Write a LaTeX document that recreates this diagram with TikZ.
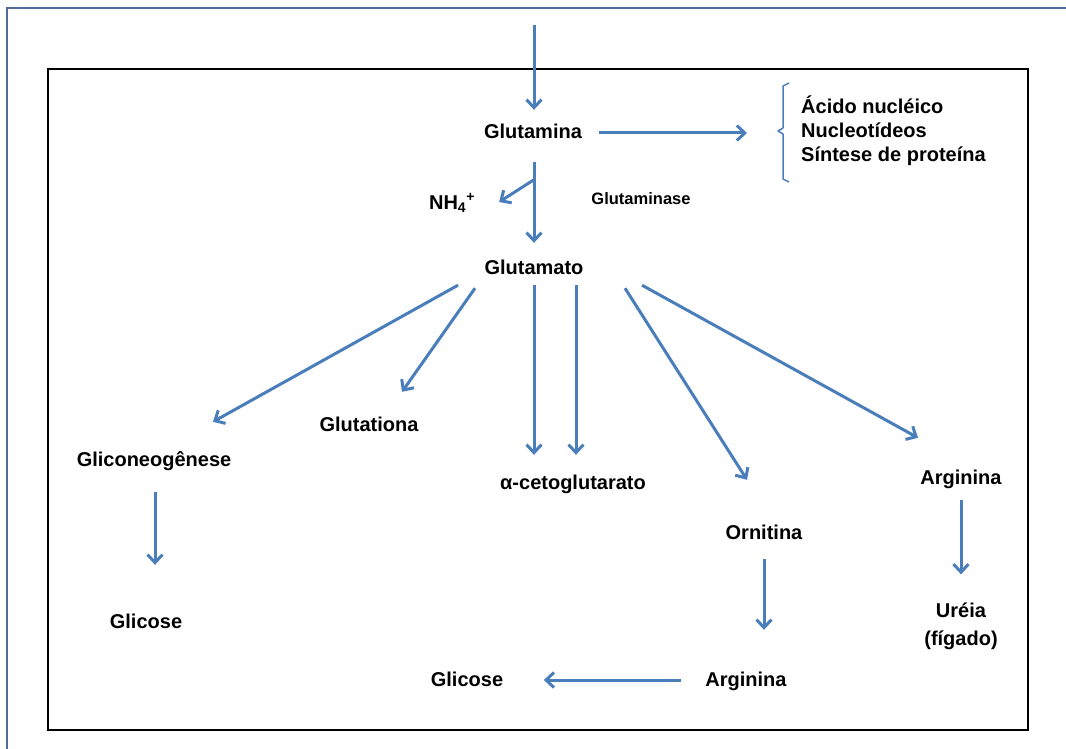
\documentclass[tikz,border=0pt]{standalone}
\usepackage{fontspec}
\setmainfont{Liberation Sans}
\usetikzlibrary{arrows.meta}
\definecolor{arrblue}{RGB}{74,126,187}
\definecolor{frameblue}{RGB}{79,107,150}
\tikzset{
  txt/.style={font=\fontsize{20}{24}\selectfont\bfseries, inner sep=0pt},
  lbl/.style={txt, text height=15pt, text depth=4pt},
  arr/.style={draw=arrblue, line width=3pt, -{Straight Barb[length=8pt,width=15pt]}},
}
\begin{document}
\begin{tikzpicture}[x=1pt,y=-1pt]
\useasboundingbox (0,0) rectangle (1066,749);
% frames
\draw[frameblue, line width=1.5pt] (7,749) -- (7,8) -- (1066,8);
\draw[black, line width=2.5pt] (48,69) rectangle (1028,730);

% nodes
\node[lbl] (glutamina) at (533,133) {Glutamina};
\node[txt, anchor=west, align=left] (lista) at (801,131) {Ácido nucléico\\Nucleotídeos\\Síntese de proteína};
\node[lbl] (nh4) at (452,204) {NH\textsubscript{4}\textsuperscript{+}};
\node[lbl, font=\fontsize{16.5}{20}\selectfont\bfseries] (glutaminase) at (641,199) {Glutaminase};
\node[lbl] (glutamato) at (534,269) {Glutamato};
\node[lbl] (glutationa) at (369,426) {Glutationa};
\node[lbl] (glicneo) at (154,461) {Gliconeogênese};
\node[lbl] (aceto) at (573,484) {α-cetoglutarato};
\node[lbl] (argR) at (961,479) {Arginina};
\node[lbl] (ornitina) at (764,534) {Ornitina};
\node[lbl] (argB) at (746,681) {Arginina};
\node[lbl] (glicB) at (467,681) {Glicose};
\node[lbl] (glicL) at (146,623) {Glicose};
\node[txt, align=center, font=\fontsize{20}{28}\selectfont\bfseries] (ureia) at (961,626) {Uréia\\(fígado)};

% brace
\draw[arrblue, line width=1.5pt, line join=round]
  ([shift={(-12,-48)}]lista.west) -- ([shift={(-18,-45)}]lista.west)
  -- ([shift={(-18,-3)}]lista.west) -- ([shift={(-23,0)}]lista.west)
  -- ([shift={(-18,3)}]lista.west) -- ([shift={(-18,48)}]lista.west)
  -- ([shift={(-12,51)}]lista.west);

% arrows
\coordinate (topin) at (534,25);
\draw[arr] (topin) -- ([shift={(1,-13.5)}]glutamina.north);
\draw[arr] ([shift={(17,0)}]glutamina.east) -- ([shift={(-54,2)}]lista.west);
\draw[arr] ([shift={(1,19)}]glutamina.south) -- ([shift={(0,-16.5)}]glutamato.north);
\draw[arr] ([shift={(1,37)}]glutamina.south) -- ([shift={(24,-2)}]nh4.east);
\draw[arr] ([shift={(-76,6.5)}]glutamato.south) -- ([shift={(59,-29.5)}]glicneo.north);
\draw[arr] ([shift={(-59,9.5)}]glutamato.south) -- ([shift={(33,-24.5)}]glutationa.north);
\draw[arr] ([shift={(0,6.5)}]glutamato.south) -- ([shift={(-39,-19.5)}]aceto.north);
\draw[arr] ([shift={(42,6.5)}]glutamato.south) -- ([shift={(3,-19.5)}]aceto.north);
\draw[arr] ([shift={(91,9.5)}]glutamato.south) -- ([shift={(-17,-44.5)}]ornitina.north);
\draw[arr] ([shift={(108,6.5)}]glutamato.south) -- ([shift={(-43,-31.5)}]argR.north);
\draw[arr] ([shift={(1,21.5)}]glicneo.south) -- ([shift={(9,-48.5)}]glicL.north);
\draw[arr] ([shift={(0,15.5)}]ornitina.south) -- ([shift={(18,-41.5)}]argB.north);
\draw[arr] ([shift={(0,11.5)}]argR.south) -- ([shift={(0,-28)}]ureia.north);
\draw[arr] ([shift={(-24.5,-1)}]argB.west) -- ([shift={(40.5,-1)}]glicB.east);
\end{tikzpicture}
\end{document}
